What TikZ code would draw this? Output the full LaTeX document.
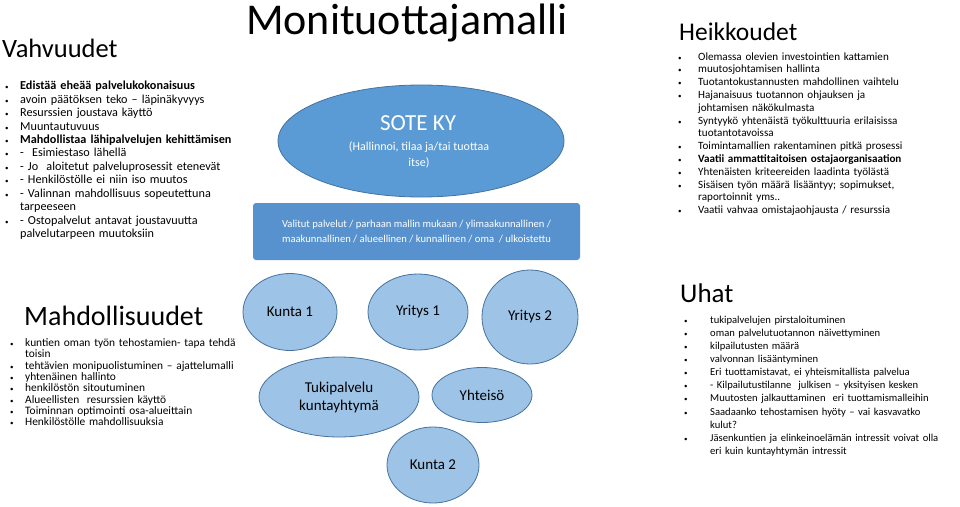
\documentclass[tikz,border=0pt]{standalone}
\usepackage{fontspec}
\setmainfont{Carlito}
\usetikzlibrary{shapes.geometric}
\definecolor{lb}{RGB}{157,195,230}
\definecolor{lbd}{RGB}{70,114,160}
\definecolor{mb}{RGB}{91,155,213}
\definecolor{rb}{RGB}{88,146,206}
\newcommand{\itm}[1]{\par\hangindent=#1\hangafter=1\noindent\makebox[#1][l]{\scriptsize•}}
\tikzset{
  bub/.style={ellipse,draw=lbd,fill=lb,line width=0.8pt,inner sep=0pt,font=\fontsize{15}{18}\selectfont,align=center},
  lst/.style={anchor=north west,inner sep=0pt,align=left},
  hd/.style={anchor=west,inner sep=0pt}
}
\begin{document}
\begin{tikzpicture}[x=1pt,y=-1pt]
\useasboundingbox (0,0) rectangle (960,506);
\node[hd,font=\fontsize{26.5}{30}\selectfont] (vh) at (2,48) {Vahvuudet};
\node[anchor=center,inner sep=0pt,font=\fontsize{44}{50}\selectfont] (title) at (407,23) {Monituottajamalli};
\node[hd,font=\fontsize{25.5}{30}\selectfont] (hk) at (679,32) {Heikkoudet};
\node[hd,font=\fontsize{28}{32}\selectfont] (md) at (24,316) {Mahdollisuudet};
\node[hd,font=\fontsize{27}{32}\selectfont] (uh) at (680,293) {Uhat};

\node[lst,text width=250pt,font=\fontsize{12.2}{13.45}\selectfont] (l1) at (5,76) {%
\itm{15pt}\textbf{Edistää eheää palvelukokonaisuus}
\itm{15pt}avoin päätöksen teko – läpinäkyvyys
\itm{15pt}Resurssien joustava käyttö
\itm{15pt}Muuntautuvuus
\itm{15pt}\textbf{Mahdollistaa lähipalvelujen kehittämisen}
\itm{15pt}- \ Esimiestaso lähellä
\itm{15pt}- Jo \ aloitetut palveluprosessit etenevät
\itm{15pt}- Henkilöstölle ei niin iso muutos
\itm{15pt}- Valinnan mahdollisuus sopeutettuna\newline tarpeeseen
\itm{15pt}- Ostopalvelut antavat joustavuutta\newline palvelutarpeen muutoksiin\par};

\node[lst,text width=285pt,font=\fontsize{11.1}{12.8}\selectfont] (l2) at (678,47) {%
\itm{20pt}Olemassa olevien investointien kattamien
\itm{20pt}muutosjohtamisen hallinta
\itm{20pt}Tuotantokustannusten mahdollinen vaihtelu
\itm{20pt}Hajanaisuus tuotannon ohjauksen ja\newline johtamisen näkökulmasta
\itm{20pt}Syntyykö yhtenäistä työkulttuuria erilaisissa\newline tuotantotavoissa
\itm{20pt}Toimintamallien rakentaminen pitkä prosessi
\itm{20pt}\textbf{Vaatii ammattitaitoisen ostajaorganisaation}
\itm{20pt}Yhtenäisten kriteereiden laadinta työlästä
\itm{20pt}Sisäisen työn määrä lisääntyy; sopimukset,\newline raportoinnit yms..
\itm{20pt}Vaatii vahvaa omistajaohjausta / resurssia\par};

\node[lst,text width=250pt,font=\fontsize{11.4}{11.3}\selectfont] (l3) at (10,335) {%
\itm{15pt}kuntien oman työn tehostamien- tapa tehdä\newline toisin
\itm{15pt}tehtävien monipuolistuminen – ajattelumalli
\itm{15pt}yhtenäinen hallinto
\itm{15pt}henkilöstön sitoutuminen
\itm{15pt}Alueellisten \ resurssien käyttö
\itm{15pt}Toiminnan optimointi osa-alueittain
\itm{15pt}Henkilöstölle mahdollisuuksia\par};

\node[lst,text width=280pt,font=\fontsize{10.6}{13.1}\selectfont] (l4) at (684,310) {%
\itm{26pt}tukipalvelujen pirstaloituminen
\itm{26pt}oman palvelutuotannon näivettyminen
\itm{26pt}kilpailutusten määrä
\itm{26pt}valvonnan lisääntyminen
\itm{26pt}Eri tuottamistavat, ei yhteismitallista palvelua
\itm{26pt}- Kilpailutustilanne \ julkisen – yksityisen kesken
\itm{26pt}Muutosten jalkauttaminen \ eri tuottamismalleihin
\itm{26pt}Saadaanko tehostamisen hyöty – vai kasvavatko\newline kulut?
\itm{26pt}Jäsenkuntien ja elinkeinoelämän intressit voivat olla\newline eri kuin kuntayhtymän intressit\par};

\node[ellipse,fill=mb,draw=lbd,line width=0.8pt,minimum width=286pt,minimum height=112pt,inner sep=0pt] (sote) at (421,141) {};
\node[text=white,font=\fontsize{23}{26}\selectfont] (st) at (418,123) {SOTE KY};
\node[text=white,font=\fontsize{12}{16}\selectfont,align=center] (ss) at (419,155) {(Hallinnoi, tilaa ja/tai tuottaa\\itse)};
\node[rounded corners=3pt,fill=rb,minimum width=327pt,minimum height=57pt,inner sep=0pt,text=white,align=center,font=\fontsize{10.6}{15.5}\selectfont] (val) at (416.5,231.5) {Valitut palvelut / parhaan mallin mukaan / ylimaakunnallinen /\\maakunnallinen / alueellinen / kunnallinen / oma \ / ulkoistettu};

\node[bub,minimum width=94pt,minimum height=77pt] (k1) at (290,312) {Kunta 1};
\node[bub,minimum width=100pt,minimum height=76pt] (y1) at (418,312) {Yritys 1};
\node[bub,minimum width=96pt,minimum height=94pt] (y2) at (530,317) {Yritys 2};
\node[bub,minimum width=160pt,minimum height=80pt] (tk) at (339,397) {Tukipalvelu\\kuntayhtymä};
\node[bub,minimum width=100pt,minimum height=55pt] (yh) at (482,395) {Yhteisö};
\node[bub,minimum width=92pt,minimum height=76pt] (k2) at (433,465) {Kunta 2};
\end{tikzpicture}
\end{document}
